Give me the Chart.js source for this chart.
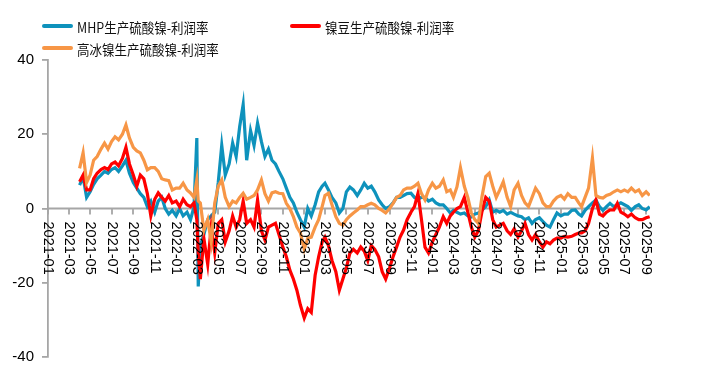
<!DOCTYPE html>
<html><head><meta charset="utf-8">
<script src="https://cdn.jsdelivr.net/npm/chart.js@4"></script>
<style>
html,body{margin:0;padding:0;background:#fff;}
#wrap{position:relative;width:712px;height:379px;overflow:hidden;}
canvas{position:absolute;left:0;top:0;}
.lg{position:absolute;display:flex;align-items:center;height:18px;font-family:"Noto Sans CJK SC",sans-serif;font-size:12.5px;color:#111;white-space:nowrap;}
.lg i{display:inline-block;width:31px;height:4px;margin-right:4px;border-radius:2px;}
.lg span{display:inline-block;transform:scaleY(1.12);transform-origin:left center;}
</style></head>
<body>
<div id="wrap">
<canvas id="c" width="712" height="379"></canvas>
<div class="lg" style="left:42px;top:17px"><i style="background:#0E92BC"></i><span id="l0"></span></div>
<div class="lg" style="left:290px;top:17px"><i style="background:#FF0000"></i><span id="l1"></span></div>
<div class="lg" style="left:42px;top:39px"><i style="background:#F79646"></i><span id="l2"></span></div>
</div>
<script>
const seriesNames = ['MHP生产硫酸镍-利润率', '镍豆生产硫酸镍-利润率', '高冰镍生产硫酸镍-利润率'];
const seriesColors = ['#0E92BC', '#FF0000', '#F79646'];

const dates = [
'2021-04-01','2021-04-11','2021-04-21','2021-05-01','2021-05-11','2021-05-21','2021-06-01','2021-06-11','2021-06-21',
'2021-07-01','2021-07-11','2021-07-21','2021-08-01','2021-08-11','2021-08-21','2021-09-01','2021-09-11','2021-09-21',
'2021-10-01','2021-10-11','2021-10-21','2021-11-01','2021-11-11','2021-11-21','2021-12-01','2021-12-11','2021-12-21',
'2022-01-01','2022-01-11','2022-01-21','2022-02-01','2022-02-11','2022-02-21','2022-03-01','2022-03-05','2022-03-11','2022-03-21',
'2022-04-01','2022-04-11','2022-04-21','2022-05-01','2022-05-11','2022-05-21','2022-06-01','2022-06-11','2022-06-21',
'2022-07-01','2022-07-11','2022-07-21','2022-08-01','2022-08-11','2022-08-21','2022-09-01','2022-09-11','2022-09-21',
'2022-10-01','2022-10-11','2022-10-21','2022-11-01','2022-11-11','2022-11-21','2022-12-01','2022-12-11','2022-12-21',
'2023-01-01','2023-01-11','2023-01-21','2023-02-01','2023-02-11','2023-02-21','2023-03-01','2023-03-11','2023-03-21',
'2023-04-01','2023-04-11','2023-04-21','2023-05-01','2023-05-11','2023-05-21','2023-06-01','2023-06-11','2023-06-21',
'2023-07-01','2023-07-11','2023-07-21','2023-08-01','2023-08-11','2023-08-21','2023-09-01','2023-09-11','2023-09-21',
'2023-10-01','2023-10-11','2023-10-21','2023-11-01','2023-11-11','2023-11-21','2023-12-01','2023-12-11','2023-12-21',
'2024-01-01','2024-01-11','2024-01-21','2024-02-01','2024-02-11','2024-02-21','2024-03-01','2024-03-11','2024-03-21',
'2024-04-01','2024-04-11','2024-04-21','2024-05-01','2024-05-11','2024-05-21','2024-06-01','2024-06-11','2024-06-21',
'2024-07-01','2024-07-11','2024-07-21','2024-08-01','2024-08-11','2024-08-21','2024-09-01','2024-09-11','2024-09-21',
'2024-10-01','2024-10-11','2024-10-21','2024-11-01','2024-11-11','2024-11-21','2024-12-01','2024-12-11','2024-12-21',
'2025-01-01','2025-01-11','2025-01-21','2025-02-01','2025-02-11','2025-02-21','2025-03-01','2025-03-11','2025-03-21',
'2025-04-01','2025-04-11','2025-04-21','2025-05-01','2025-05-11','2025-05-21','2025-06-01','2025-06-11','2025-06-21',
'2025-07-01','2025-07-11','2025-07-21','2025-08-01','2025-08-11','2025-08-21','2025-09-01','2025-09-11'
];

const mhpProfit = [
6.3,8.5,3.0, 4.5,6.5,8, 9,10,9.5, 10.5,11,10, 11.5,13,9.5, 7,5.5,4, 3,0.5,2, -1,2,3, 0,-1.5,-0.5,
-2,0,-2, -1,-3,0.5, 19,-21,-10,-7, -3,-2,-1, 7,17,9, 12,17.6,14, 22,28,13, 21,17,23, 18,14,16, 13,12,10, 8,5.5,3, 1.5,-1,-3,
-5,0,-2, 1,4.5,6, 6.8,5,3, 1.5,-1.2,0, 4.5,5.8,5, 3.5,5,6.8, 5.5,6,4.5, 2.3,1,0, 0.5,1.5,3, 3,3.5,4, 4.1,3,2.5, 3,3,2,
2.5,1.5,1, 1,0,-1.2, -0.5,-1,-1.5, -1.2,-2,-2.3, -1.5,-1.2,-0.5, 0.5,2.3,-1, -0.5,-1,-0.5, -1.5,-1,-1.5, -2,-2.2,-3, -2.5,-4,-3, -2.5,-3.5,-4.5, -5,-3,-1.2,
-2,-1.5,-1.5, -0.5,-0.4,-1.5, -2,-0.5,0.5, 1.5,2.3,0.5, -0.5,0.5,1.4, 0.5,1,1.5, 1,0.5,-0.5, 0.5,1,0, -0.4,0.5
];

const beanProfit = [
7.2,9,5, 5,8,9.5, 10.5,11,10.5, 12,12.5,11.5, 13.5,16.5,12, 9,6,9, 8,4,-2, 2.5,4.2,3, 2,3.5,1.5,
2,0.5,2.5, 1,0.5,1.5, -3,-12,-19,-8, -15,-5,-12, -4,-3,-9, -6,-2,-5, -3,2,-4, -3,-5,2.3, -6,-8.5,-5, -4.5,-4,-7, -10.4,-13,-16.6, -19,-22,-26,
-29.5,-27,-28, -18,-13,-9, -7.7,-10,-14, -17,-22,-19, -16,-12,-11, -12,-10.4,-11.5, -14,-10,-11, -13,-17,-19, -16,-13,-10.4, -7.7,-5.8,-3, -1,0.5,4.1, -3,-10.4,-12,
-9,-7,-5, -2.2,-4,-2, -1,0,0.5, 3,-1,-5, -7.7,-6,-1, 3,2,-3, -5,-4.5,-4, -6,-7,-5.5, -7.7,-6,-4, -7,-8.5,-7, -9,-10.4,-9, -9.5,-8.5,-8,
-8,-7.5,-7.7, -7.5,-7,-6.6, -6.6,-6,-4, 0,2.3,-1.5, -2,-1,-0.4, -0.4,1.4,-1, -1.5,-2.2,-1.5, -2.5,-3,-3, -2.5,-2.2
];

const matteProfit = [
10.8,15,7, 9,13,14, 16,17.6,16, 18,19.3,18.5, 20,22.5,19, 16.5,15.5,15, 13,10.4,11, 11,10,8, 7.7,7.5,5,
5.5,5.5,6.8, 5,4.2,3, 7.7,2,1.5,-5.8, -3,-9,1.5, 6,7.7,3, 0.5,2,1.5, 3,4.1,2.5, 3,3.5,5, 7.7,4,2, 4.2,4.5,4.1, 4,1.4,0, -2.2,-5,-6.6,
-11,-8,-7.7, -5,-3,0.5, 3.5,4.1,1, -2.2,-4,-4.5, -3,-2,-1.2, -0.4,0.5,0.5, 1,1.4,1, 0,-0.5,-1.2, 0,1.4,3, 3.5,5,5.5, 5.5,6,6.8, 4,2.3,5,
6.8,5.5,6, 7.7,4.5,5, 3,5.8,11, 6,3,-1.2, -3,-4,3, 8.6,9.5,6, 3,5,7.2, 3,0.5,5, 6.8,3.5,1.5, 0.5,3,5.5, 4,1.5,0.5, 0.5,2,3,
3.5,2.5,4, 3,3,1.5, 0.5,3,5.5, 13.6,3.5,3, 2.8,3.5,3.8, 4.5,5,4.5, 5,4.5,5.5, 4.5,5,3.5, 4.5,3.5
];

const xTickLabels = ['2021-01','2021-03','2021-05','2021-07','2021-09','2021-11','2022-01','2022-03','2022-05','2022-07',
'2022-09','2022-11','2023-01','2023-03','2023-05','2023-07','2023-09','2023-11','2024-01','2024-03','2024-05','2024-07',
'2024-09','2024-11','2025-01','2025-03','2025-05','2025-07','2025-09'];
const yTickValues = [-40,-20,0,20,40];

const AXIS_START = '2021-01-01';
const AXIS_END = '2025-09-12';

function dayIndex(s){
  const p = s.split('-').map(Number);
  const b = AXIS_START.split('-').map(Number);
  return (Date.UTC(p[0],p[1]-1,p[2]||1) - Date.UTC(b[0],b[1]-1,b[2]))/864e5;
}
function toPoints(vals){ return vals.map((v,i)=>({x:dayIndex(dates[i]), y:v})); }

seriesNames.forEach((n,i)=>{document.getElementById('l'+i).textContent=n;});

const axisGrey = '#A6A6A6';
const zeroAxisPlugin = {
  id:'zeroAxis',
  beforeDatasetsDraw(chart){
    const {ctx, chartArea:a, scales:{x,y}} = chart;
    const y0 = y.getPixelForValue(0);
    ctx.save();
    ctx.strokeStyle = axisGrey; ctx.lineWidth = 1.8;
    ctx.beginPath();
    ctx.moveTo(a.left, y0); ctx.lineTo(a.right, y0);
    xTickLabels.forEach(t=>{
      const px = Math.round(x.getPixelForValue(dayIndex(t)));
      ctx.moveTo(px, y0); ctx.lineTo(px, y0+6);
    });
    ctx.stroke();
    ctx.restore();
  },
  afterDatasetsDraw(chart){
    const {ctx, scales:{x,y}} = chart;
    const y0 = y.getPixelForValue(0);
    ctx.save();
    ctx.font = '14.5px "Liberation Sans", Arial, sans-serif';
    ctx.fillStyle = '#000';
    ctx.textAlign = 'left';
    ctx.textBaseline = 'middle';
    xTickLabels.forEach(t=>{
      const px = x.getPixelForValue(dayIndex(t));
      ctx.save();
      ctx.translate(px, y0+13);
      ctx.rotate(Math.PI/2);
      ctx.fillText(t, 0, 0);
      ctx.restore();
    });
    ctx.restore();
  }
};

const series = [mhpProfit, beanProfit, matteProfit];
new Chart(document.getElementById('c'), {
  type:'line',
  data:{datasets: series.map((vals,i)=>({
    label: seriesNames[i],
    data: toPoints(vals),
    borderColor: seriesColors[i],
    backgroundColor: seriesColors[i],
    borderWidth: 3.2,
    pointRadius: 0,
    tension: 0,
    fill: false,
    order: 2 - i
  }))},
  options:{
    responsive:false, animation:false, devicePixelRatio:1,
    layout:{padding:{top:60, bottom:22, right:62, left:0}},
    plugins:{legend:{display:false}, tooltip:{enabled:false}},
    scales:{
      x:{type:'linear', min:0, max:dayIndex(AXIS_END), display:false},
      y:{
        min:-40, max:40,
        afterBuildTicks(s){ s.ticks = yTickValues.map(v=>({value:v})); },
        ticks:{font:{family:'"Liberation Sans", Arial, sans-serif', size:15}, color:'#000', padding:8},
        grid:{drawOnChartArea:false, drawTicks:true, tickLength:6, color:axisGrey, lineWidth:1.8},
        border:{color:axisGrey, width:1.8},
        afterFit(s){ s.width = 48; }
      }
    }
  },
  plugins:[zeroAxisPlugin]
});
</script>
</body></html>
